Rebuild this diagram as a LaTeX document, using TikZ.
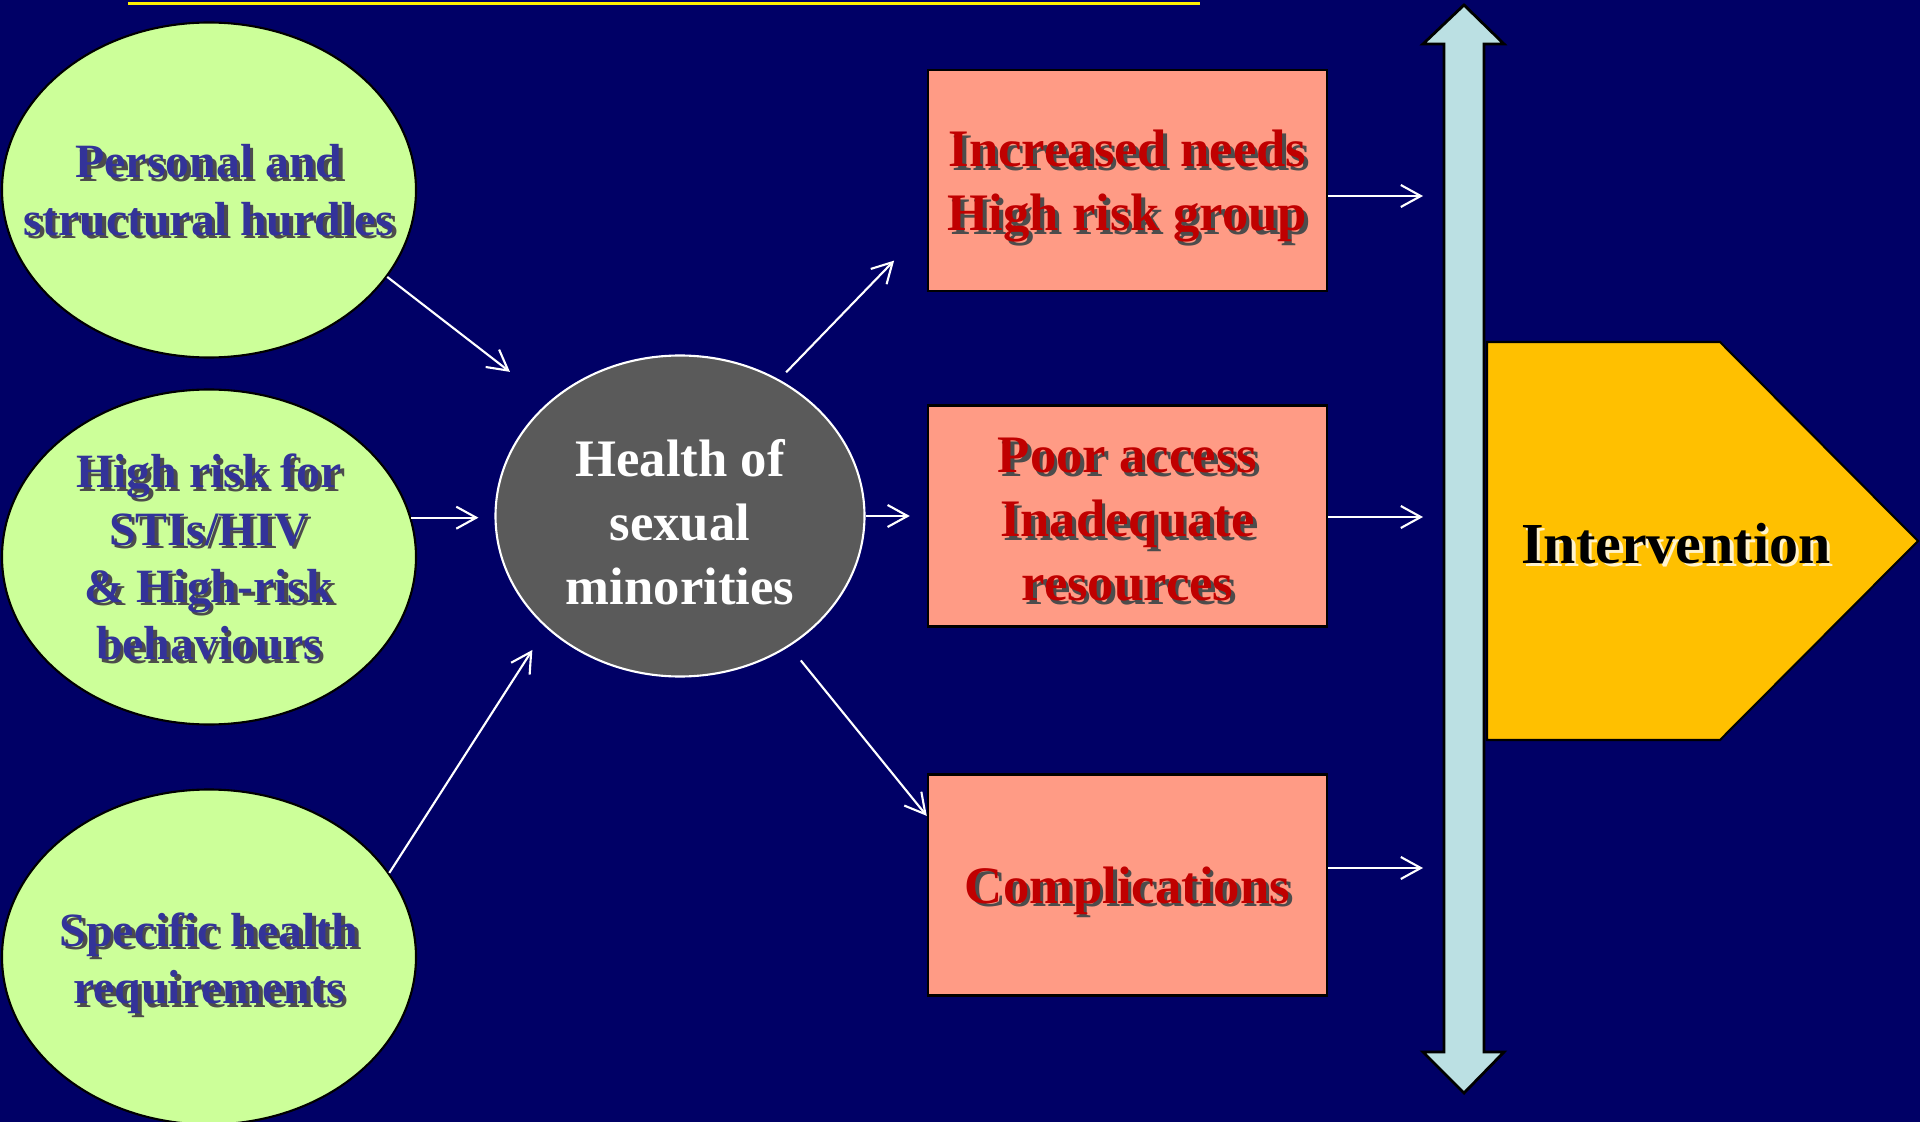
\documentclass[tikz,border=0pt]{standalone}
\usepackage{fontspec}
\setmainfont{Liberation Serif}
\usetikzlibrary{shapes.geometric,arrows.meta}
\definecolor{slidebg}{HTML}{000066}
\definecolor{leafgreen}{HTML}{CCFF99}
\definecolor{causeblue}{HTML}{333399}
\definecolor{hubgray}{HTML}{5A5A5A}
\definecolor{salmon}{HTML}{FF9B85}
\definecolor{effectred}{HTML}{C00000}
\definecolor{barcyan}{HTML}{BBE0E3}
\definecolor{goldc}{HTML}{FFC000}
\newcommand{\shd}[2][black!70]{\makebox[0pt][l]{\hspace{1pt}\raisebox{-1pt}{\color{#1}#2}}#2}

\begin{document}
\begin{tikzpicture}[x=0.1mm,y=-0.1mm,
  main node/.style={ellipse,draw=black,line width=0.6pt,fill=leafgreen,minimum width=41.4mm,minimum height=33.5mm,inner sep=0pt},
  cause text/.style={align=center,text=causeblue,font=\bfseries\fontsize{13.6}{16.3}\selectfont,inner sep=0pt,yshift=-0.2mm},
  center node/.style={ellipse,draw=white,line width=0.6pt,fill=hubgray,minimum width=36.9mm,minimum height=32.1mm,inner sep=0pt},
  center text/.style={align=center,text=white,font=\bfseries\fontsize{15}{18.2}\selectfont,inner sep=0pt,yshift=-0.65mm},
  effect node/.style={rectangle,draw=black,line width=0.7pt,fill=salmon,minimum width=39.9mm,minimum height=22.1mm,inner sep=0pt},
  effect text/.style={align=center,text=effectred,font=\bfseries\fontsize{15}{18.2}\selectfont,inner sep=0pt,yshift=-0.75mm},
  goal text/.style={inner sep=0pt,text=black,font=\bfseries\fontsize{16.5}{19}\selectfont},
  flow/.style={draw=white,line width=0.6pt,-{Straight Barb[length=2mm,width=2.2mm]}}]
  \useasboundingbox (0,0) rectangle (1920,1122);
  \fill[slidebg] (0,0) rectangle (1920,1122);
  \draw[yellow,line width=0.3mm] (128,4) -- (1200,4);

  \node[main node,label={[cause text]center:{\shd{Personal and}\\\shd{structural hurdles}}}] (1) at (209,190) {};
  \node[main node,label={[cause text]center:{\shd{High risk for}\\\shd{STIs/HIV}\\\shd{\& High-risk}\\\shd{behaviours}}}] (2) at (209,557) {};
  \node[main node,label={[cause text,yshift=-0.6mm]center:{\shd{Specific health}\\\shd{requirements}}}] (3) at (209,957) {};
  \node[center node,label={[center text]center:{Health of\\sexual\\minorities}}] (4) at (680,516) {};
  \node[effect node,label={[effect text]center:{\shd{Increased needs}\\\shd{High risk group}}}] (5) at (1127.5,180.5) {};
  \node[effect node,label={[effect text,yshift=0.2mm]center:{\shd{Poor access}\\\shd{Inadequate}\\\shd{resources}}}] (6) at (1127.5,516) {};
  \node[effect node,label={[effect text]center:{\shd{Complications}}}] (7) at (1127.5,885) {};

  \filldraw[fill=barcyan,draw=black,line width=0.8pt] (1444,44) -- (1423,44) -- (1464,5) -- (1504,44) -- (1484,44) -- (1484,1052) -- (1504,1052) -- (1464,1093) -- (1423,1052) -- (1444,1052) -- cycle;
  \filldraw[fill=goldc,draw=black,line width=0.6pt] (1487,342) -- (1720,342) -- (1918,541) -- (1720,740) -- (1487,740) -- cycle;
  \node[goal text] (8) at (1676,545) {\shd[white!80!goldc]{Intervention}};

  \coordinate (9) at (1423,196);
  \coordinate (10) at (1423,517);
  \coordinate (11) at (1423,868);

  \path[every edge/.style=flow]
    (1.-26) edge[shorten >=4.9mm] (4.139)
    (2.11) edge[shorten >=1.6mm] (2.11 -| 4.west)
    (3.25) edge[shorten >=2.6mm] (4.-140)
    (4.54) edge[shorten <=1mm,shorten >=4.7mm] (5.193)
    (4) edge[shorten >=1.7mm] (6)
    (4.-50) edge[shorten <=1.8mm] (7.161);
  \path[every edge/.style=flow]
    (5.east |- 9) edge (9)
    (6.east |- 10) edge (10)
    (7.east |- 11) edge (11);
\end{tikzpicture}
\end{document}
